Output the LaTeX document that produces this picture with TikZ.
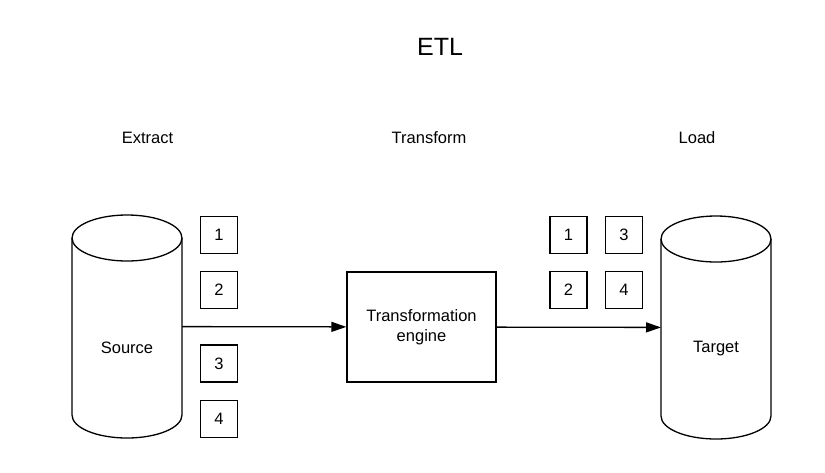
\documentclass[tikz,border=0pt]{standalone}
\usepackage{fontspec}
\setmainfont{Liberation Sans}
\usetikzlibrary{arrows.meta}

\tikzset{
  store/.style={shape=rectangle, minimum width=110pt, minimum height=223pt, inner sep=0pt, outer sep=0pt},
  can/.style={line width=1.3pt},
  numbox/.style={shape=rectangle, draw=black, line width=1.3pt, minimum size=37pt,
    inner sep=0pt, font=\fontsize{16.5}{19}\selectfont},
  stepname/.style={anchor=base, font=\fontsize{16.5}{19}\selectfont},
  flow/.style={-{Triangle[length=15pt, width=10pt]}, line width=1.3pt}
}

% outline of a cylinder round a store node
\newcommand{\drawcan}[1]{%
  \draw[can] ([yshift=-23pt]#1.north west) -- ([yshift=23pt]#1.south west)
    arc[start angle=180, end angle=360, x radius=55pt, y radius=23pt]
    -- ([yshift=-23pt]#1.north east)
    arc[start angle=0, end angle=180, x radius=55pt, y radius=23pt];
  \draw[can] ([yshift=-23pt]#1.north west)
    arc[start angle=180, end angle=360, x radius=55pt, y radius=23pt];
}

\begin{document}
\begin{tikzpicture}[x=1pt, y=-1pt]

    	\useasboundingbox (0, 0) rectangle (825, 472);

    	\node[anchor=base, font=\fontsize{25}{29}\selectfont] (title) at (440, 55) {ETL};

    	\node[stepname] (extract)   at (147.5, 143) {Extract};
    	\node[stepname] (transform) at (429, 143)   {Transform};
    	\node[stepname] (load)      at (697, 143)   {Load};

    	\node[store, label={[yshift=-21.5pt, font=\fontsize{16.5}{19}\selectfont]center:Source}] (source) at (127, 326.5) {};
    	\node[store, label={[yshift=-21.5pt, font=\fontsize{16.5}{19}\selectfont]center:Target}] (target) at (716, 327.5) {};
    	\drawcan{source}
    	\drawcan{target}

    	\node[shape=rectangle, draw=black, line width=1.3pt, minimum width=149pt, minimum height=110pt,
    	      align=center, font=\fontsize{16.5}{20}\selectfont] (engine) at (421.5, 327) {Transformation\\engine};

    	\node[numbox] (s1) at (219, 235) {1};
    	\node[numbox] (s2) at (219, 290) {2};
    	\node[numbox] (s3) at (219, 363.5) {3};
    	\node[numbox] (s4) at (219, 419) {4};

    	\node[numbox] (t1) at (568.5, 235) {1};
    	\node[numbox] (t2) at (568.5, 290) {2};
    	\node[numbox] (t3) at (624, 235)   {3};
    	\node[numbox] (t4) at (624, 290)   {4};

    	\path[flow] (source) edge (engine);
    	\path[flow] (engine) edge (target);

\end{tikzpicture}
\end{document}
